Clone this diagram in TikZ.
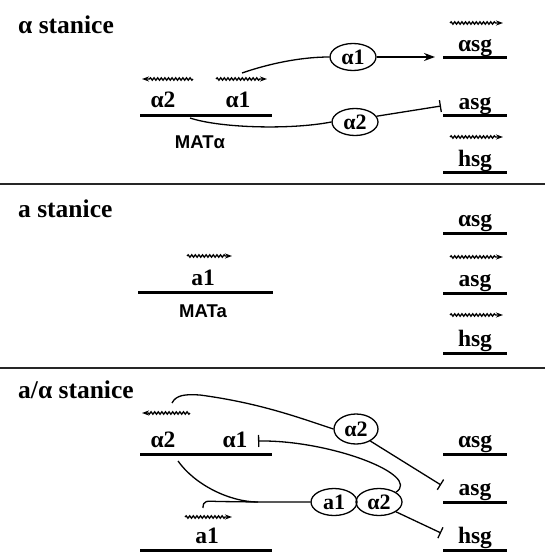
\documentclass[tikz,border=0pt]{standalone}
\usepackage{fontspec}
\setmainfont{Liberation Serif}
\setsansfont{Liberation Sans}
\usetikzlibrary{arrows.meta,shapes.geometric,decorations.pathmorphing}

\begin{document}
\begin{tikzpicture}[x=1pt,y=-1pt,
gene/.style={line width=3pt},
link/.style={line width=1.3pt},
wavy/.style={line width=1.3pt,decorate,decoration={snake,amplitude=1.2pt,segment length=3.6pt,post length=6pt},-{Stealth[length=7pt,width=5pt]}},
prot/.style={draw,line width=1.3pt,ellipse,inner sep=0pt,minimum width=46pt,minimum height=27pt,font=\fontsize{22}{22}\selectfont\bfseries},
lbl/.style={anchor=base,inner sep=0pt,font=\fontsize{23.5}{23.5}\selectfont\bfseries},
ttl/.style={anchor=base west,inner sep=0pt,font=\fontsize{25.5}{25.5}\selectfont\bfseries},
mat/.style={anchor=base,inner sep=0pt,font=\sffamily\bfseries\fontsize{18.5}{18.5}\selectfont}]
\useasboundingbox (0,0) rectangle (545,553);
\newcommand{\sepclr}{black!85}
\newcommand{\barend}{-{Bar[width=12pt]}}
% panel separators
\draw[\sepclr,line width=2pt] (0,184.5) -- (545,184.5);
\draw[\sepclr,line width=2pt] (0,368) -- (545,368);
\node[ttl] (alphaTitle) at (18,34) {α stanice};
\node[ttl] (aTitle) at (18,217) {a stanice};
\node[ttl] (aalphaTitle) at (18,398) {a/α stanice};
% target genes on the right
\foreach \ly/\txt/\nm in {58/αsg/topA,116/asg/topB,173/hsg/topC,233/αsg/midA,293/asg/midB,353/hsg/midC,454/αsg/botA,502/asg/botB,550/hsg/botC}
{
\draw[gene] (443,\ly) -- (507,\ly);
\node[lbl] (\nm) at (475,\ly-6.5) {\txt};
}
\foreach \wy in {23,137,257,315}
\draw[wavy] (450,\wy) -- (503,\wy);
% alpha cell
\draw[gene] (140,116) -- (272,116);
\node[lbl] (topAlphaTwo) at (163,108) {α2};
\node[lbl] (topAlphaOne) at (238,108) {α1};
\node[mat] (matAlpha) at (200,149) {MATα};
\draw[wavy] (193,79) -- (142,79);
\draw[wavy] (216,79) -- (267,79);
\node[prot] (A1ellipse) at (353,57) {α1};
\node[prot] (A2ellipse) at (355,122) {α2};
\coordinate (a1start) at (242,73);
\coordinate (a2start) at (190,118);
\coordinate (aSGtip) at (435,57);
\coordinate (asgBar) at (441,106);
\draw[link] (a1start) .. controls (268,64) and (300,57) .. (A1ellipse.west);
\draw[link,-{Stealth[length=11pt,width=8pt]}] (A1ellipse.east) -- (aSGtip);
\draw[link] (a2start) .. controls (220,128) and (290,130) .. (A2ellipse.west);
\draw[link,\barend] (A2ellipse.15) -- (asgBar);
% a cell
\draw[gene] (138,292) -- (273,292);
\node[lbl] (midAOne) at (203,285) {a1};
\node[mat] (matA) at (203,317) {MATa};
\draw[wavy] (187,256) -- (232,256);
% a/alpha cell
\draw[gene] (140,454) -- (272,454);
\node[lbl] (botAlphaTwo) at (163,447) {α2};
\node[lbl] (botAlphaOne) at (235,447) {α1};
\draw[wavy] (190,413) -- (142,413);
\draw[gene] (140,550) -- (272,550);
\node[lbl] (botAOne) at (207,543) {a1};
\draw[wavy] (185,517) -- (232,517);
\node[prot,minimum height=30pt,minimum width=44pt] (B2ellipse) at (356,429) {α2};
\node[prot] (D1ellipse) at (334,502) {a1};
\node[prot] (D2ellipse) at (379,502) {α2};
\coordinate (b2start) at (172,403);
\coordinate (d2start) at (178,461);
\coordinate (d1start) at (203,508);
\coordinate (joint) at (258,502);
\coordinate (a1Bar) at (258,441);
\coordinate (asgBarB) at (441,485);
\coordinate (hsgBar) at (441,533);
\draw[link] (b2start) .. controls (176,395) and (185,394) .. (200,395) .. controls (260,403) and (300,418) .. (B2ellipse.west);
\draw[link,\barend] (B2ellipse.-40) -- (asgBarB);
\draw[link] (d2start) .. controls (195,485) and (230,502) .. (joint) -- (D1ellipse.west);
\draw[link] (d1start) .. controls (203,500) and (207,501) .. (218,501.5) -- (joint);
\draw[link,\barend] (D2ellipse.30) .. controls (422,475) and (330,440) .. (a1Bar);
\draw[link,\barend] (D2ellipse.-30) -- (hsgBar);
\end{tikzpicture}
\end{document}
